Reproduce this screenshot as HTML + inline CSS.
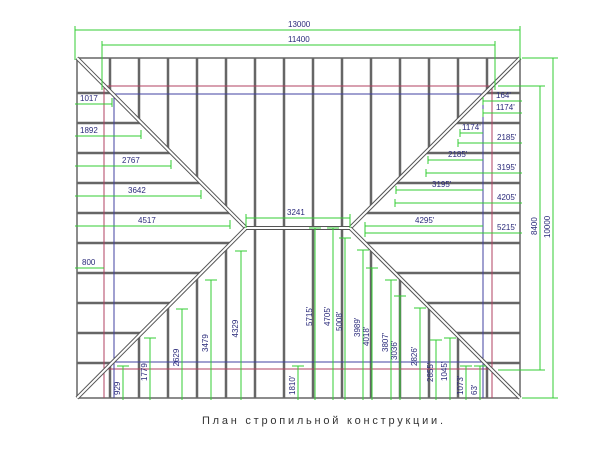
<!DOCTYPE html>
<html><head><meta charset="utf-8"><style>
html,body{margin:0;padding:0;background:#fff;width:600px;height:450px;overflow:hidden}
svg{display:block}
text{font-family:"Liberation Sans",sans-serif;fill:#2a2a7a;font-size:8px}
</style></head><body>
<svg id="s" width="600" height="450" viewBox="0 0 600 450" xmlns="http://www.w3.org/2000/svg">
<g id="g"></g>
<text x="202" y="424" textLength="241" lengthAdjust="spacing" style="font-size:11px;fill:#333">План стропильной конструкции.</text>
</svg>
<script>
var g=document.getElementById('g'),h='';
function L(x1,y1,x2,y2,c,w){h+='<line x1="'+x1+'" y1="'+y1+'" x2="'+x2+'" y2="'+y2+'" stroke="'+c+'" stroke-width="'+w+'"/>';}
function T(x,y,s,r){h+='<text x="'+x+'" y="'+y+'"'+(r?' transform="rotate(-90 '+x+' '+y+')"':'')+'>'+s+'</text>';}
var R='#666',G='#33cc33';
L(77,58,520,58,R,1.5);L(77,58,77,398,R,1.5);L(520,58,520,398,R,1.5);L(77,398,520,398,R,1.5);
var xs=[110,139,168,197,226,255,284,313,342,371,400,429,458,487];
xs.forEach(function(x){
 var yt,yb;
 if(x<246){yt=58+(x-77);yb=228+(246-x);}
 else if(x>350){yt=58+(520-x);yb=228+(x-350);}
 if(x>=246&&x<=350){L(x,58,x,398,R,2.5);}
 else{L(x,58,x,yt,R,2.5);L(x,yb,x,398,R,2.5);}
});
[93,123,153,183,213].forEach(function(y){L(77,y,77+(y-58),y,R,2.5);L(520,y,520-(y-58),y,R,2.5);});
[243,273,303,333,363].forEach(function(y){L(77,y,77+(398-y),y,R,2.5);L(520,y,520-(398-y),y,R,2.5);});
L(104,86,492,86,'#b04060',1);L(114,94,483,94,'#4040a0',1);
L(104,369,492,369,'#b04060',1);L(114,362,483,362,'#4040a0',1);
L(104,86,104,398,'#b04060',1);L(114,94,114,398,'#4040a0',1);
L(492,86,492,398,'#b04060',1);L(483,94,483,398,'#4040a0',1);
function D(x1,y1,x2,y2){L(x1,y1,x2,y2,'#555',4);L(x1,y1,x2,y2,'#fff',2);}
D(77,58,246,228);D(520,58,350,228);D(246,228,77,398);D(350,228,520,398);
L(246,228,350,228,'#555',4);L(246,228,350,228,'#fff',2);
L(75,30,520,30,G,1);L(75,26,75,60,G,1);L(520,26,520,60,G,1);T(288,27,'13000');
L(102,45,495,45,G,1);L(102,41,102,90,G,1);L(495,41,495,90,G,1);T(288,42,'11400');
L(540,86,540,370,G,1);L(498,86,545,86,G,1);L(498,370,545,370,G,1);T(537,235,'8400',1);
L(553,58,553,398,G,1);L(522,58,558,58,G,1);L(522,398,558,398,G,1);T(550,238,'10000',1);
[[104,112,'1017',80],[136,141,'1892',80],[166,171,'2767',122],[196,201,'3642',128],[226,230,'4517',138]].forEach(function(d){
 L(75,d[0],d[1],d[0],G,1);L(d[1],d[0]-6,d[1],d[0]+3,G,1);T(d[3],d[0]-3,d[2]);});
L(75,268,104,268,G,1);T(82,265,'800');
L(246,218,350,218,G,1);L(246,214,246,228,G,1);L(350,214,350,228,G,1);T(287,215,'3241');
[[101,483,"164'",496],[113,483,"1174'",496],[143,458,"2185'",497],[173,426,"3195'",497],[203,395,"4205'",497],[233,365,"5215'",497]].forEach(function(d){
 L(d[1],d[0],522,d[0],G,1);L(d[1],d[0]-4,d[1],d[0]+4,G,1);T(d[3],d[0]-3,d[2]);});
[[133,460,"1174'",462],[160,428,"2185'",448],[190,396,"3195'",432],[226,365,"4295'",415]].forEach(function(d){
 L(d[1],d[0],483,d[0],G,1);L(d[1],d[0]-4,d[1],d[0]+4,G,1);T(d[3],d[0]-3,d[2]);});
[[123,366,'929'],[150,338,'1779'],[182,309,'2629'],[211,280,'3479'],[241,251,'4329'],[298,366,"1810'"],[315,228,"5715'"],[333,228,"4705'"],[345,238,"5008'"],[363,250,"3989'"],[372,268,"4018'"],[391,280,"3807'"],[400,296,"3036'"],[420,308,"2826'"],[436,340,"2855'"],[450,338,"1045'"],[466,366,"1073'"],[480,366,"63'"]].forEach(function(d){
 L(d[0],d[1],d[0],400,G,1);L(d[0]-6,d[1],d[0]+6,d[1],G,1);
 T(d[0]-3,(d[1]+400)/2+12,d[2],1);});
g.innerHTML=h;
</script>
</body></html>
